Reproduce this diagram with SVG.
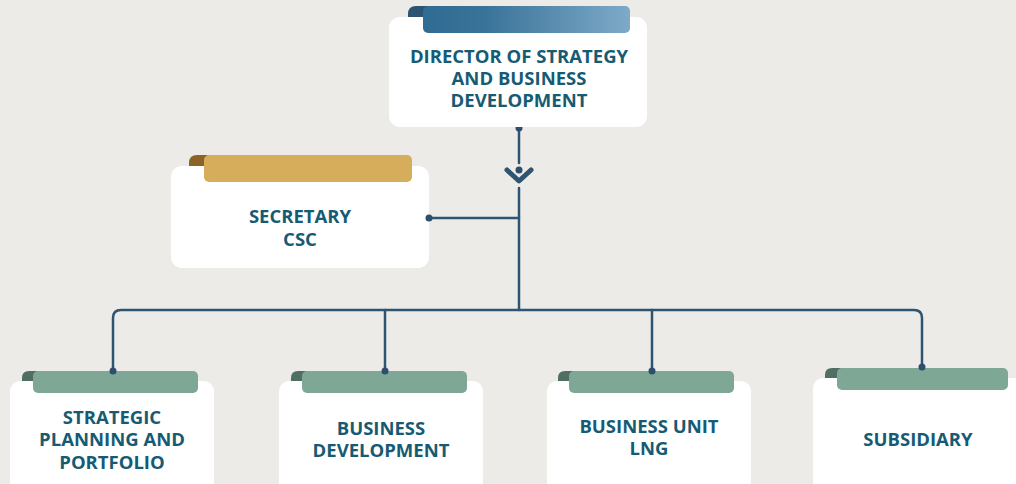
<svg xmlns="http://www.w3.org/2000/svg" width="1016" height="484" viewBox="0 0 1016 484">
<defs>
<linearGradient id="gBlue" x1="0" y1="0" x2="1" y2="0">
<stop offset="0" stop-color="#2f6b93"/>
<stop offset="0.3" stop-color="#3a7399"/>
<stop offset="1" stop-color="#7eaac8"/>
</linearGradient>
<style>
.card{fill:#ffffff}
.lbl{font-family:"Open Sans","Noto Sans","Liberation Sans",sans-serif;font-weight:700;font-size:18.5px;fill:#165b73;text-anchor:middle}
.wire{fill:none;stroke:#2e5471;stroke-width:2.5;stroke-linecap:round;stroke-linejoin:round}
.dot{fill:#2e4e6b}
.gbar{fill:#7ea895}
.gcurl{fill:#4f6f62}
</style>
</defs>
<rect width="1016" height="484" fill="#edebe7"/>

<g id="connectors">
<path class="wire" d="M519 128 V163"/>
<path class="wire" d="M507 170 L519 181 L531 170" style="stroke-width:5"/>
<circle class="dot" cx="519" cy="170" r="3.5"/>
<path class="wire" d="M519 188 V310"/>
<path class="wire" d="M429 218 H519"/>
<path class="wire" d="M113 370 V318 Q113 310 121 310 H914 Q922 310 922 318 V366"/>
<path class="wire" d="M385 310 V371"/>
<path class="wire" d="M652 310 V371"/>
<circle class="dot" cx="519" cy="128" r="3.5"/>
</g>

<g id="director">
<rect class="card" x="389" y="17" width="258" height="110" rx="11"/>
<path d="M408 17 V14 Q408 6 416 6 H432 V17 Z" fill="#2c5470"/>
<rect x="423" y="6" width="207" height="27" rx="5" fill="url(#gBlue)"/>
<text class="lbl" x="519" y="62.5">DIRECTOR OF STRATEGY</text>
<text class="lbl" x="519" y="84.5">AND BUSINESS</text>
<text class="lbl" x="519" y="106.5">DEVELOPMENT</text>
</g>

<g id="secretary">
<rect class="card" x="171" y="166" width="258" height="102" rx="11"/>
<path d="M189 166 V163 Q189 155 197 155 H212 V166 Z" fill="#8a6426"/>
<rect x="204" y="155" width="208" height="27" rx="5" fill="#d6ad5b"/>
<text class="lbl" x="300" y="223">SECRETARY</text>
<text class="lbl" x="300" y="246">CSC</text>
</g>
<circle class="dot" cx="429" cy="218" r="3.5"/>

<g id="strategic-planning">
<rect class="card" x="10" y="381" width="204" height="120" rx="10"/>
<path d="M22 381 V378 Q22 371 29 371 H40 V381 Z" class="gcurl"/>
<rect class="gbar" x="33" y="371" width="165" height="22" rx="5"/>
<text class="lbl" x="112" y="423.5">STRATEGIC</text>
<text class="lbl" x="112" y="446">PLANNING AND</text>
<text class="lbl" x="112" y="468.5">PORTFOLIO</text>
</g>

<g id="business-development">
<rect class="card" x="279" y="381" width="204" height="120" rx="10"/>
<path d="M291 381 V378 Q291 371 298 371 H309 V381 Z" class="gcurl"/>
<rect class="gbar" x="302" y="371" width="165" height="22" rx="5"/>
<text class="lbl" x="381" y="434.5">BUSINESS</text>
<text class="lbl" x="381" y="456.5">DEVELOPMENT</text>
</g>

<g id="business-unit-lng">
<rect class="card" x="547" y="381" width="204" height="120" rx="10"/>
<path d="M558 381 V378 Q558 371 565 371 H576 V381 Z" class="gcurl"/>
<rect class="gbar" x="569" y="371" width="165" height="22" rx="5"/>
<text class="lbl" x="649" y="432.5">BUSINESS UNIT</text>
<text class="lbl" x="649" y="454.5">LNG</text>
</g>

<g id="subsidiary">
<rect class="card" x="813" y="378" width="220" height="120" rx="10"/>
<path d="M825 378 V375 Q825 368 832 368 H844 V378 Z" class="gcurl"/>
<rect class="gbar" x="837" y="368" width="171" height="22" rx="5"/>
<text class="lbl" x="918" y="445.5">SUBSIDIARY</text>
</g>

<g id="drop-dots">
<circle class="dot" cx="113" cy="371" r="3.5"/>
<circle class="dot" cx="385" cy="371" r="3.5"/>
<circle class="dot" cx="652" cy="371" r="3.5"/>
<circle class="dot" cx="922" cy="367" r="3.5"/>
</g>
</svg>
